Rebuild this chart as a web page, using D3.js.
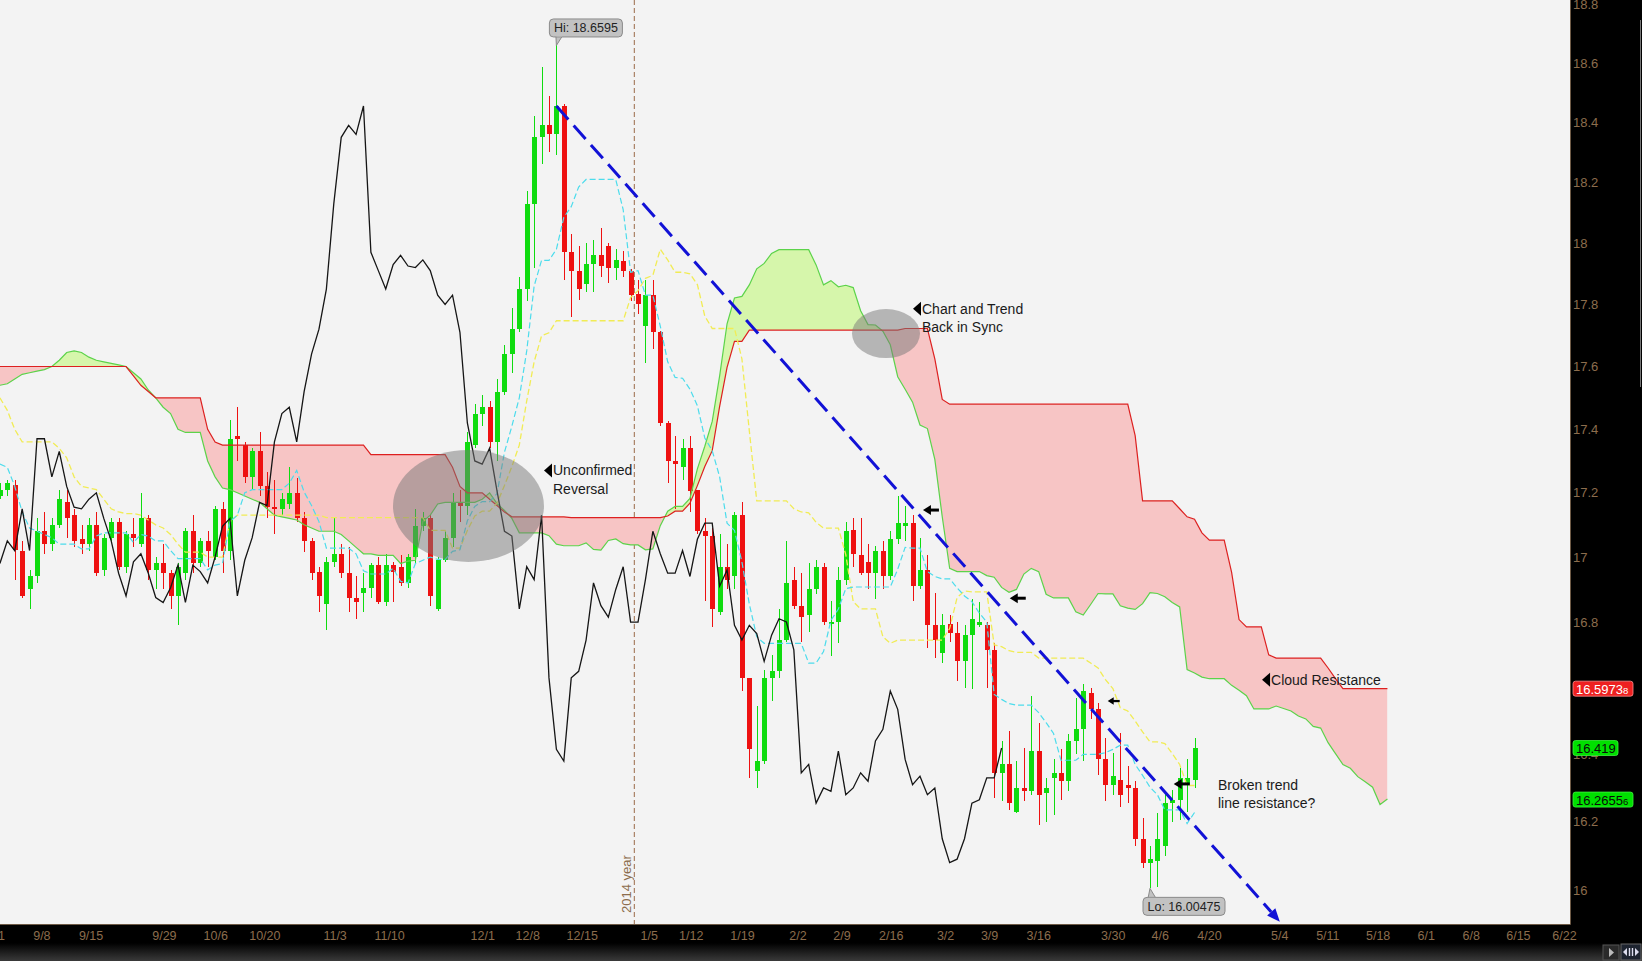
<!DOCTYPE html>
<html><head><meta charset="utf-8">
<script src="https://cdn.jsdelivr.net/npm/d3@7"></script>
<style>html,body{margin:0;padding:0;background:#000;overflow:hidden}svg{display:block;font-family:"Liberation Sans",Arial,sans-serif}</style>
</head><body><svg id="c" width="1642" height="961"></svg>
<script>
// ---------- DATA (bar 0 = partially visible first bar) ----------
const openP = [17.19,17.21,17.224,17.02,16.90,16.94,17.08,17.04,17.10,17.17,
17.13,17.055,17.04,17.10,16.96,17.06,17.11,16.97,17.07,17.04,
17.12,16.96,16.98,16.95,16.88,16.95,17.08,16.98,17.05,17.00,
17.15,17.02,17.38,17.35,17.25,17.33,17.22,17.155,17.15,17.165,
17.20,17.12,17.05,16.955,16.855,16.985,17.01,16.95,16.875,16.89,
16.905,16.975,16.86,16.975,16.97,16.92,17.00,17.095,17.12,16.84,
16.99,17.06,17.17,17.16,17.35,17.45,17.47,17.36,17.52,17.64,
17.72,17.85,18.13,18.35,18.39,18.36,18.455,17.97,17.91,17.865,
17.93,17.96,17.99,17.92,17.94,17.91,17.835,17.73,17.83,17.71,
17.42,17.30,17.28,17.34,17.21,17.08,17.065,16.83,16.97,16.94,
17.13,16.63,16.35,16.38,16.63,16.65,16.745,16.93,16.85,16.82,
16.90,16.97,16.795,16.80,16.93,17.085,17.005,16.985,16.95,17.02,
16.94,17.055,17.095,17.105,16.91,16.96,16.79,16.705,16.795,16.765,
16.68,16.76,16.79,16.79,16.715,16.345,16.37,16.23,16.30,16.29,
16.41,16.285,16.33,16.345,16.32,16.44,16.475,16.585,16.535,16.385,
16.31,16.325,16.31,16.30,16.15,16.08,16.085,16.13,16.255,16.265,
16.31,16.325];
const highP = [17.23,17.24,17.24,17.05,16.96,17.12,17.14,17.12,17.21,17.21,
17.15,17.10,17.12,17.14,17.07,17.12,17.12,17.08,17.12,17.20,
17.13,17.00,17.04,16.96,16.98,17.09,17.13,17.06,17.08,17.16,
17.17,17.43,17.47,17.36,17.34,17.39,17.265,17.24,17.20,17.28,
17.245,17.14,17.06,16.97,17.00,17.12,17.04,17.03,16.94,16.95,
16.98,17.00,17.01,16.985,17.005,17.01,17.15,17.14,17.13,17.00,
17.08,17.20,17.21,17.39,17.48,17.51,17.49,17.56,17.67,17.79,
17.89,18.17,18.42,18.587,18.49,18.6595,18.46,18.03,17.99,18.00,
18.01,18.05,18.00,17.98,17.975,17.915,17.88,17.88,17.88,17.715,
17.425,17.38,17.37,17.38,17.21,17.12,17.09,17.07,17.04,17.14,
17.17,16.63,16.545,16.655,16.70,16.84,17.05,16.97,16.95,16.98,
16.99,16.98,16.865,16.97,17.11,17.12,17.12,17.04,17.035,17.05,
17.08,17.19,17.16,17.13,17.06,17.005,16.89,16.825,16.82,16.80,
16.79,16.87,16.86,16.80,16.735,16.44,16.47,16.38,16.42,16.575,
16.495,16.33,16.385,16.415,16.46,16.57,16.61,16.60,16.555,16.45,
16.405,16.465,16.365,16.32,16.21,16.13,16.225,16.285,16.295,16.36,
16.385,16.45];
const lowP = [17.18,17.19,16.93,16.875,16.84,16.92,17.01,17.02,17.09,17.06,
17.03,17.01,17.02,16.94,16.94,17.05,16.96,16.95,17.03,17.03,
16.93,16.90,16.90,16.84,16.79,16.93,16.95,16.97,16.97,16.99,
16.95,16.99,17.30,17.23,17.21,17.19,17.12,17.07,17.13,17.15,
17.11,17.015,16.93,16.83,16.775,16.97,16.935,16.83,16.81,16.83,
16.875,16.855,16.85,16.86,16.91,16.905,16.98,17.08,16.85,16.835,
16.985,17.03,17.11,17.13,17.34,17.41,17.34,17.30,17.51,17.58,
17.71,17.81,17.92,18.26,18.30,18.29,17.88,17.76,17.815,17.84,
17.84,17.89,17.87,17.88,17.89,17.81,17.77,17.61,17.655,17.41,
17.23,17.15,17.24,17.14,17.07,16.865,16.785,16.82,16.90,16.90,
16.59,16.33,16.30,16.37,16.56,16.63,16.74,16.84,16.74,16.77,
16.885,16.79,16.695,16.735,16.915,16.97,16.945,16.90,16.87,16.90,
16.93,17.04,17.05,16.865,16.90,16.72,16.69,16.675,16.74,16.62,
16.60,16.595,16.785,16.60,16.27,16.26,16.235,16.225,16.26,16.28,
16.19,16.20,16.22,16.265,16.29,16.40,16.38,16.505,16.34,16.26,
16.28,16.245,16.255,16.13,16.065,16.00475,16.01,16.10,16.20,16.205,
16.23,16.30];
const closeP = [17.21,17.23,17.022,16.88,16.94,17.08,17.04,17.10,17.18,17.12,
17.05,17.04,17.10,16.95,17.06,17.11,16.97,17.07,17.06,17.12,
16.96,16.98,16.95,16.88,16.97,17.08,16.98,17.05,17.02,17.15,
17.02,17.37,17.37,17.25,17.33,17.22,17.155,17.15,17.18,17.20,
17.12,17.05,16.95,16.88,16.985,17.01,16.95,16.875,16.86,16.905,
16.975,16.86,16.975,16.955,16.92,17.00,17.095,17.12,16.88,16.99,
17.06,17.17,17.16,17.36,17.45,17.47,17.36,17.52,17.64,17.72,
17.85,18.13,18.35,18.39,18.36,18.455,17.97,17.91,17.85,17.93,
17.96,17.925,17.92,17.945,17.91,17.83,17.80,17.83,17.71,17.42,
17.30,17.29,17.34,17.205,17.08,17.065,16.84,16.97,16.93,17.13,
16.63,16.415,16.38,16.63,16.65,16.745,16.92,16.85,16.815,16.90,
16.97,16.80,16.80,16.93,17.08,17.01,16.95,16.95,17.02,16.94,
17.055,17.105,17.105,16.91,16.96,16.79,16.745,16.79,16.765,16.68,
16.76,16.81,16.80,16.715,16.345,16.37,16.255,16.30,16.29,16.41,
16.28,16.30,16.345,16.32,16.44,16.475,16.59,16.535,16.385,16.31,
16.335,16.28,16.30,16.15,16.08,16.09,16.15,16.255,16.265,16.33,
16.33,16.419];

// Indicator values at the left edge (their look-back bars are off-screen)
const tenkanEarly = [17.29,17.28,17.22,17.14,17.09,17.08,17.07,17.06];
const kijunEarly = [17.50,17.46,17.40,17.36,17.36,17.36,17.36,17.36,17.34,17.31,
17.25,17.22,17.215,17.21,17.18,17.15,17.14,17.135,17.135,17.13,
17.115,17.10,17.09,17.07,17.04];
const spanAEarly = [17.54,17.545,17.56,17.575,17.58,17.585,17.59,17.60,17.62,17.645,
17.65,17.645,17.63,17.62,17.615,17.61,17.605,17.60,17.58,17.56,
17.525,17.50,17.47,17.45,17.40,17.39,17.39,17.39,17.30,17.25,
17.215,17.21,17.20,17.19,17.18,17.17,17.15,17.13,17.125,17.12,
17.115,17.10,17.09,17.08,17.08,17.08,17.07,17.05,17.03,17.01,
17.01];
const spanBEarly = [17.60,17.60,17.60,17.60,17.60,17.60,17.60,17.60,17.60,17.60,
17.60,17.60,17.60,17.60,17.60,17.60,17.60,17.60,17.57,17.54,
17.52,17.50,17.50,17.50,17.50,17.50,17.50,17.50,17.40,17.36,
17.35,17.35,17.35,17.35,17.35,17.35,17.35,17.35,17.35,17.35,
17.35,17.35,17.35,17.35,17.35,17.35,17.35,17.35,17.35,17.35,
17.32,17.32,17.32,17.32,17.32,17.32,17.32,17.32,17.32,17.32,
17.32,17.28,17.22,17.20,17.20,17.20,17.18,17.16,17.14,17.125,
17.125,17.125,17.125,17.125,17.125,17.125,17.125];

const yTicks = [18.8,18.6,18.4,18.2,18.0,17.8,17.6,17.4,17.2,17.0,16.8,16.6,16.4,16.2,16.0];
const dateLabels = ["9/1","9/8","9/15","9/29","10/6","10/20","11/3","11/10","12/1","12/8","12/15","1/5","1/12","1/19","2/2","2/9","2/16","3/2","3/9","3/16","3/30","4/6","4/20","5/4","5/11","5/18","6/1","6/8","6/15","6/22"];
const dateLabelPos = [-0.5,5.66,12.29,22.17,29.08,35.71,45.18,52.52,65.08,71.14,78.48,87.52,93.17,100.08,107.56,113.5,120.12,127.45,133.38,140.01,150.04,156.39,163.02,172.48,178.97,185.75,192.23,198.30,204.65,210.86];
const yearLinePos = 85.5;
const yearLabel = "2014 year";
const badgeValues = [16.59738, 16.419, 16.26556];
const badgeMain = ["16.5973","16.419","16.2655"];
const badgeSmall = ["8","","6"];
const badgeKind = ["red","green","green"];
const hiBar = 75, loBar = 155;
const trendPts = [[75, 18.455],[172.5, 15.908]];
const arrowPts = [[124.4,17.146,1],[136.1,16.873,1],[149.3,16.560,0.75],[158.2,16.312,1]];
const ellipses = [[63.15,17.159,75.5,56],[119.42,17.706,34,24.5]];
const notes = [
  {k:73.33, v:17.27, lines:["Unconfirmed","Reversal"], tri:true},
  {k:123.06, v:17.786, lines:["Chart and Trend","Back in Sync"], tri:true},
  {k:170.1, v:16.624, lines:["Cloud Resistance"], tri:true},
  {k:164.16, v:16.31, lines:["Broken trend","line resistance?"], tri:false}
];

// ---------- SETUP ----------
const W=1642, H=961, plotW=1570, plotH=924;
const svg=d3.select("#c");
const xs=d3.scaleLinear().domain([0,211]).range([-0.1,-0.1+211*7.42]);
const ys=d3.scaleLog().domain([18.6,16]).range([63,890]);
const N=closeP.length, M=N+26;
function hh(a,b){let m=-Infinity;for(let j=a;j<=b;j++)m=Math.max(m,highP[j]);return m;}
function ll(a,b){let m=Infinity;for(let j=a;j<=b;j++)m=Math.min(m,lowP[j]);return m;}
const tenkan=d3.range(N).map(k=>k<tenkanEarly.length?tenkanEarly[k]:(hh(k-8,k)+ll(k-8,k))/2);
const kijun=d3.range(N).map(k=>k<kijunEarly.length?kijunEarly[k]:(hh(k-25,k)+ll(k-25,k))/2);
const spanA=d3.range(M).map(k=>k<spanAEarly.length?spanAEarly[k]:(tenkan[k-26]+kijun[k-26])/2);
const spanB=d3.range(M).map(k=>k<spanBEarly.length?spanBEarly[k]:(hh(k-77,k-26)+ll(k-77,k-26))/2);
const chikou=d3.range(N-26).map(k=>closeP[k+26]);

const C={bg:"#f3f3f3",up:"#0fdc0f",dn:"#ee1111",spanA:"#5cd34a",spanB:"#dd2020",fillR:"#f7c5c5",fillG:"#d6f6ab",
  tenkan:"#4cdcec",kijun:"#f1ec55",chik:"#151515",axisTxt:"#8c6d4d",trend:"#1111d6"};

const defs=svg.append("defs");
defs.append("clipPath").attr("id","plotClip").append("rect").attr("x",0).attr("y",0).attr("width",plotW).attr("height",plotH);
const kc=d3.range(M);
defs.append("clipPath").attr("id","clipAbove").append("path")
  .attr("d",d3.area().x(k=>xs(k)).y0(-10).y1(k=>ys(spanB[k]))(kc));
defs.append("clipPath").attr("id","clipBelow").append("path")
  .attr("d",d3.area().x(k=>xs(k)).y0(k=>ys(spanB[k])).y1(plotH+10)(kc));
const grad=defs.append("linearGradient").attr("id","botGrad").attr("x1",0).attr("y1",0).attr("x2",0).attr("y2",1);
grad.append("stop").attr("offset","0%").attr("stop-color","#000");
grad.append("stop").attr("offset","100%").attr("stop-color","#3a3a3a");

// backgrounds
svg.append("rect").attr("width",W).attr("height",H).attr("fill","#000");
svg.append("rect").attr("width",plotW).attr("height",plotH).attr("fill",C.bg);

const g=svg.append("g").attr("clip-path","url(#plotClip)");

// year separator
g.append("line").attr("x1",xs(yearLinePos)).attr("x2",xs(yearLinePos)).attr("y1",0).attr("y2",plotH)
  .attr("stroke","#9a6a48").attr("stroke-width",1).attr("stroke-dasharray","5,3");
g.append("text").attr("transform",`translate(${xs(yearLinePos)-3},913) rotate(-90)`)
  .attr("font-size",13).attr("fill",C.axisTxt).text(yearLabel);

// cloud fill
const between=d3.area().x(k=>xs(k)).y0(k=>ys(spanA[k])).y1(k=>ys(spanB[k]));
g.append("path").attr("d",between(kc)).attr("fill",C.fillG).attr("clip-path","url(#clipAbove)");
g.append("path").attr("d",between(kc)).attr("fill",C.fillR).attr("clip-path","url(#clipBelow)");

// candles
const cg=g.append("g").attr("shape-rendering","crispEdges");
d3.range(N).forEach(k=>{
  const up=closeP[k]>=openP[k], col=up?C.up:C.dn;
  const cx=Math.round(xs(k));
  cg.append("line").attr("x1",cx+0.5).attr("x2",cx+0.5).attr("y1",ys(highP[k])).attr("y2",ys(lowP[k])).attr("stroke",col).attr("stroke-width",1);
  const yt=ys(Math.max(openP[k],closeP[k])), yb=ys(Math.min(openP[k],closeP[k]));
  cg.append("rect").attr("x",cx-2).attr("width",5).attr("y",yt).attr("height",Math.max(1.5,yb-yt)).attr("fill",col);
});

// lines
const lineOf=(arr)=>d3.line().x(k=>xs(k)).y(k=>ys(arr[k]));
g.append("path").attr("d",lineOf(spanA)(kc)).attr("fill","none").attr("stroke",C.spanA).attr("stroke-width",1.2);
g.append("path").attr("d",lineOf(spanB)(kc)).attr("fill","none").attr("stroke",C.spanB).attr("stroke-width",1.2);
g.append("path").attr("d",lineOf(kijun)(d3.range(N))).attr("fill","none").attr("stroke",C.kijun).attr("stroke-width",1.3).attr("stroke-dasharray","6,3");
g.append("path").attr("d",lineOf(tenkan)(d3.range(N))).attr("fill","none").attr("stroke",C.tenkan).attr("stroke-width",1.2).attr("stroke-dasharray","6,3");
g.append("path").attr("d",lineOf(chikou)(d3.range(N-26))).attr("fill","none").attr("stroke",C.chik).attr("stroke-width",1.3);

// trend line with arrow
const tx0=xs(trendPts[0][0]), ty0=ys(trendPts[0][1]), tx1=xs(trendPts[1][0]), ty1=ys(trendPts[1][1]);
const ang=Math.atan2(ty1-ty0,tx1-tx0), ah=13, aw=5.5;
const bx=tx1-ah*Math.cos(ang), by=ty1-ah*Math.sin(ang);
g.append("line").attr("x1",tx0).attr("y1",ty0).attr("x2",bx).attr("y2",by).attr("stroke",C.trend).attr("stroke-width",3).attr("stroke-dasharray","18,8");
g.append("path").attr("d",`M${tx1},${ty1}L${bx+aw*Math.sin(ang)},${by-aw*Math.cos(ang)}L${bx-aw*Math.sin(ang)},${by+aw*Math.cos(ang)}Z`).attr("fill",C.trend);

// ellipses
ellipses.forEach(e=>{
  g.append("ellipse").attr("cx",xs(e[0])).attr("cy",ys(e[1])).attr("rx",e[2]).attr("ry",e[3]).attr("fill","rgba(120,120,120,0.5)");
});

// small arrows
arrowPts.forEach(a=>{
  const x=xs(a[0]), y=ys(a[1]), s=a[2];
  g.append("path").attr("d",`M${x},${y}L${x+8*s},${y-5*s}L${x+8*s},${y+5*s}Z`).attr("fill","#000");
  g.append("line").attr("x1",x+6*s).attr("x2",x+16*s).attr("y1",y).attr("y2",y).attr("stroke","#000").attr("stroke-width",3*s);
});

// notes
notes.forEach(n=>{
  const x=xs(n.k), y=ys(n.v);
  if(n.tri) g.append("path").attr("d",`M${x},${y}L${x+8},${y-7}L${x+8},${y+7}Z`).attr("fill","#000");
  const tx=n.tri?x+9:x;
  n.lines.forEach((t,i)=>{
    g.append("text").attr("x",tx).attr("y",y+5+i*18.5).attr("font-size",14).attr("fill","#1a1a1a").text(t);
  });
});

// hi / lo bubbles
function bubble(k,v,label,above){
  const x=xs(k), y=ys(v);
  const bw=above?73:82, bh=18;
  const rx=x-7, ry=above? y-26.5 : y+9;
  const tail=above? `M${x-0.5},${ry+bh-1}L${x+6},${ry+bh-1}L${x},${y}Z` : `M${x-2},${ry+1}L${x+6},${ry+1}L${x},${y}Z`;
  g.append("path").attr("d",tail).attr("fill","#c2c2c2").attr("stroke","#8a8a8a");
  g.append("rect").attr("x",rx).attr("y",ry).attr("width",bw).attr("height",bh).attr("rx",4).attr("fill","#c2c2c2").attr("stroke","#8a8a8a");
  g.append("path").attr("d",above?`M${x},${ry+bh-1.5}L${x+5.5},${ry+bh-1.5}`:`M${x-1.5},${ry+1.5}L${x+5.5},${ry+1.5}`).attr("stroke","#c2c2c2").attr("stroke-width",2);
  g.append("text").attr("x",rx+bw/2).attr("y",ry+13.5).attr("text-anchor","middle").attr("font-size",12.5).attr("fill","#222").text(label);
}
bubble(hiBar,highP[hiBar],"Hi: "+highP[hiBar],true);
bubble(loBar,lowP[loBar],"Lo: "+lowP[loBar],false);

// ---------- AXES ----------
svg.append("rect").attr("x",plotW).attr("y",0).attr("width",W-plotW).attr("height",plotH).attr("fill","#000");
svg.append("rect").attr("x",0).attr("y",plotH).attr("width",W).attr("height",H-plotH).attr("fill","#000");
svg.append("rect").attr("x",0).attr("y",943).attr("width",W).attr("height",18).attr("fill","url(#botGrad)");
svg.append("line").attr("x1",plotW+0.5).attr("x2",plotW+0.5).attr("y1",0).attr("y2",plotH+0.5).attr("stroke","#6e5a46");
svg.append("line").attr("x1",0).attr("x2",plotW+0.5).attr("y1",plotH+0.5).attr("y2",plotH+0.5).attr("stroke","#6e5a46");
svg.append("line").attr("x1",1640.5).attr("x2",1640.5).attr("y1",20).attr("y2",387).attr("stroke","#777");

// tick labels (a label sitting right under a price badge is hidden by it, as in the platform)
const ya=svg.append("g");
yTicks.forEach(v=>{
  const y=ys(v);
  if(badgeValues.some(b=>Math.abs(ys(b)-y)<4)) return;
  ya.append("text").attr("x",1573).attr("y",y).attr("dy","0.35em").attr("font-size",13).attr("fill",C.axisTxt).text(String(+v.toFixed(1)));
});
const xa=svg.append("g");
dateLabels.forEach((t,i)=>{
  xa.append("text").attr("x",xs(dateLabelPos[i])).attr("y",939.5).attr("text-anchor","middle").attr("font-size",12.5).attr("fill",C.axisTxt).text(t);
});

// price badges
badgeValues.forEach((v,i)=>{
  const y=ys(v), red=badgeKind[i]==="red";
  const w=badgeSmall[i]?60:45;
  svg.append("rect").attr("x",1573).attr("y",y-7.5).attr("width",w).attr("height",15).attr("rx",2.5)
    .attr("fill",red?"#ee2020":"#00e000").attr("stroke",red?"#ff9090":"#40f040").attr("stroke-width",0.8);
  const t=svg.append("text").attr("x",1576).attr("y",y+5).attr("font-size",13).attr("fill",red?"#fff":"#0a0a0a").text(badgeMain[i]);
  if(badgeSmall[i]) t.append("tspan").attr("font-size",9.5).text(badgeSmall[i]);
});

// corner buttons
svg.append("rect").attr("x",1603).attr("y",945).attr("width",16).attr("height",15).attr("fill","#2a2a2a").attr("stroke","#555");
svg.append("path").attr("d","M1609,948L1614,952.5L1609,957Z").attr("fill","#bbb");
svg.append("rect").attr("x",1621).attr("y",944).attr("width",20).attr("height",16).attr("fill","#1e2430").attr("stroke","#666");
svg.append("path").attr("d","M1623,952L1627,948L1627,956Z M1639,952L1635,948L1635,956Z").attr("fill","#dde");
svg.append("path").attr("d","M1629.5,948V956M1632.5,948V956").attr("stroke","#dde").attr("stroke-width",1.4);
</script></body></html>
